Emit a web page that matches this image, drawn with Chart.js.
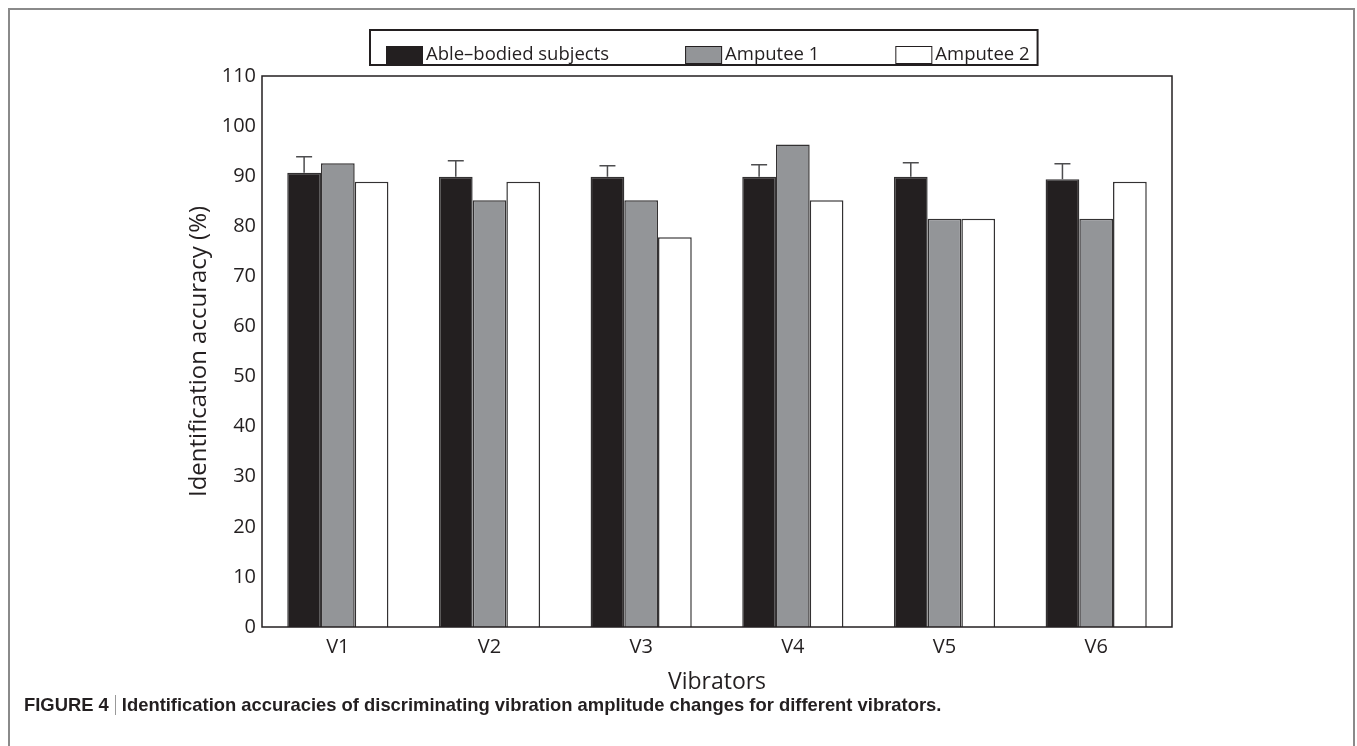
<!DOCTYPE html>
<html>
<head>
<meta charset="utf-8">
<script src="https://cdn.jsdelivr.net/npm/chart.js@4.4.1/dist/chart.umd.min.js"></script>
<style>
  html, body { margin: 0; padding: 0; background: #fff; }
  body { width: 1357px; height: 746px; position: relative; overflow: hidden; }
  #frame { position: absolute; left: 8px; top: 8px; width: 1347px; height: 760px;
           border: 2px solid #8a8a8a; border-bottom: none; box-sizing: border-box; }
  #wrap { position: absolute; left: 0; top: 0; width: 1357px; height: 746px; }
  #caption { position: absolute; left: 24px; top: 694px; white-space: nowrap;
             font: bold 18.4px "Liberation Sans", Arial, sans-serif; color: #231f20; }
  #caption .sep { display: inline-block; width: 1px; height: 20px; background: #999;
                  vertical-align: -4px; margin: 0 6px; }
</style>
</head>
<body>
<div id="frame"></div>
<div id="wrap"><canvas id="chart" width="1357" height="746"></canvas></div>
<div id="caption">FIGURE 4<span class="sep"></span>Identification accuracies of discriminating vibration amplitude changes for different vibrators.</div>
<script>
(() => {
  // valores
  const categories = ['V1', 'V2', 'V3', 'V4', 'V5', 'V6'];
  const seriesNames = ['Able\u2013bodied subjects', 'Amputee 1', 'Amputee 2'];
  const ableBodied = [90.7, 89.9, 89.9, 89.9, 89.9, 89.4];
  const ableBodiedErr = [3.2, 3.2, 2.2, 2.4, 2.8, 3.1];
  const amputee1 = [92.6, 85.2, 85.2, 96.3, 81.5, 81.5];
  const amputee2 = [88.9, 88.9, 77.8, 85.2, 81.5, 88.9];
  const yTicks = [0, 10, 20, 30, 40, 50, 60, 70, 80, 90, 100, 110];

  const FONT = '"Open Sans", sans-serif';
  const INK = '#231f20';
  const fills = ['#231f20', '#939598', '#ffffff'];

  // caja del grafico + barras de error
  const framePlugin = {
    id: 'frame',
    afterDatasetsDraw(chart) {
      const {ctx, chartArea: a, scales} = chart;
      const meta = chart.getDatasetMeta(0);
      ctx.save();
      ctx.strokeStyle = '#4d4d4f';
      ctx.lineWidth = 1.5;
      meta.data.forEach((bar, i) => {
        const yTop = scales.y.getPixelForValue(ableBodied[i] + ableBodiedErr[i]);
        ctx.beginPath();
        ctx.moveTo(bar.x, bar.y);
        ctx.lineTo(bar.x, yTop);
        ctx.moveTo(bar.x - 8, yTop);
        ctx.lineTo(bar.x + 8, yTop);
        ctx.stroke();
      });
      ctx.strokeStyle = INK;
      ctx.lineWidth = 1.5;
      ctx.strokeRect(a.left, a.top, a.right - a.left, a.bottom - a.top);
      ctx.restore();
    }
  };

  // leyenda en caja como en la figura
  const legendPlugin = {
    id: 'boxLegend',
    afterDraw(chart) {
      const {ctx} = chart;
      const sw = 37, sh = 18, gapText = 3, gapItem = 76, padL = 16, padR = 8;
      ctx.save();
      ctx.font = '18.5px ' + FONT;
      const items = chart.data.datasets.map(d => ({
        label: d.label, color: d.backgroundColor, w: sw + gapText + ctx.measureText(d.label).width
      }));
      const total = padL + padR + items.reduce((s, it) => s + it.w, 0) + gapItem * (items.length - 1);
      const cx = 704, top = 30, h = 35;
      let x = Math.round(cx - total / 2);
      ctx.strokeStyle = INK;
      ctx.lineWidth = 2;
      ctx.strokeRect(x, top, total, h);
      x += padL;
      const swTop = 46, baseY = 60;
      items.forEach(it => {
        ctx.fillStyle = it.color;
        ctx.fillRect(x, swTop, sw, sh);
        ctx.lineWidth = 1;
        ctx.strokeStyle = INK;
        ctx.strokeRect(x + 0.5, swTop + 0.5, sw - 1, sh - 1);
        ctx.fillStyle = INK;
        ctx.textBaseline = 'alphabetic';
        ctx.fillText(it.label, x + sw + gapText, baseY);
        x += it.w + gapItem;
      });
      ctx.restore();
    }
  };

  const mkSet = (label, data, color) => ({
    label, data,
    backgroundColor: color,
    borderColor: '#333132',
    borderWidth: 1.5,
    categoryPercentage: 0.667,
    barPercentage: 1.0
  });

  new Chart(document.getElementById('chart'), {
    type: 'bar',
    data: {
      labels: categories,
      datasets: [
        mkSet(seriesNames[0], ableBodied, fills[0]),
        mkSet(seriesNames[1], amputee1, fills[1]),
        mkSet(seriesNames[2], amputee2, fills[2])
      ]
    },
    options: {
      responsive: false,
      animation: false,
      layout: { padding: { left: 180, right: 185, top: 76, bottom: 46 } },
      plugins: { legend: { display: false }, tooltip: { enabled: false } },
      scales: {
        x: {
          grid: { display: false, drawTicks: false },
          border: { display: false },
          ticks: { color: INK, font: { family: FONT, size: 20 }, padding: 8 },
          title: { display: true, text: 'Vibrators', color: INK, font: { family: FONT, size: 23 },
                   padding: { top: 4, bottom: 4 } },
          afterFit(s) { s.height = 73; }
        },
        y: {
          min: 0, max: 110,
          afterBuildTicks(s) { s.ticks = yTicks.map(v => ({ value: v })); },
          grid: { display: false, drawTicks: false },
          border: { display: false },
          ticks: { color: INK, font: { family: FONT, size: 20 }, padding: 6 },
          title: { display: true, text: 'Identification accuracy (%)', color: INK,
                   font: { family: FONT, size: 24 }, padding: { top: 5, bottom: 0 } },
          afterFit(s) { s.width = 82; }
        }
      }
    },
    plugins: [framePlugin, legendPlugin]
  });
})();
</script>
</body>
</html>
